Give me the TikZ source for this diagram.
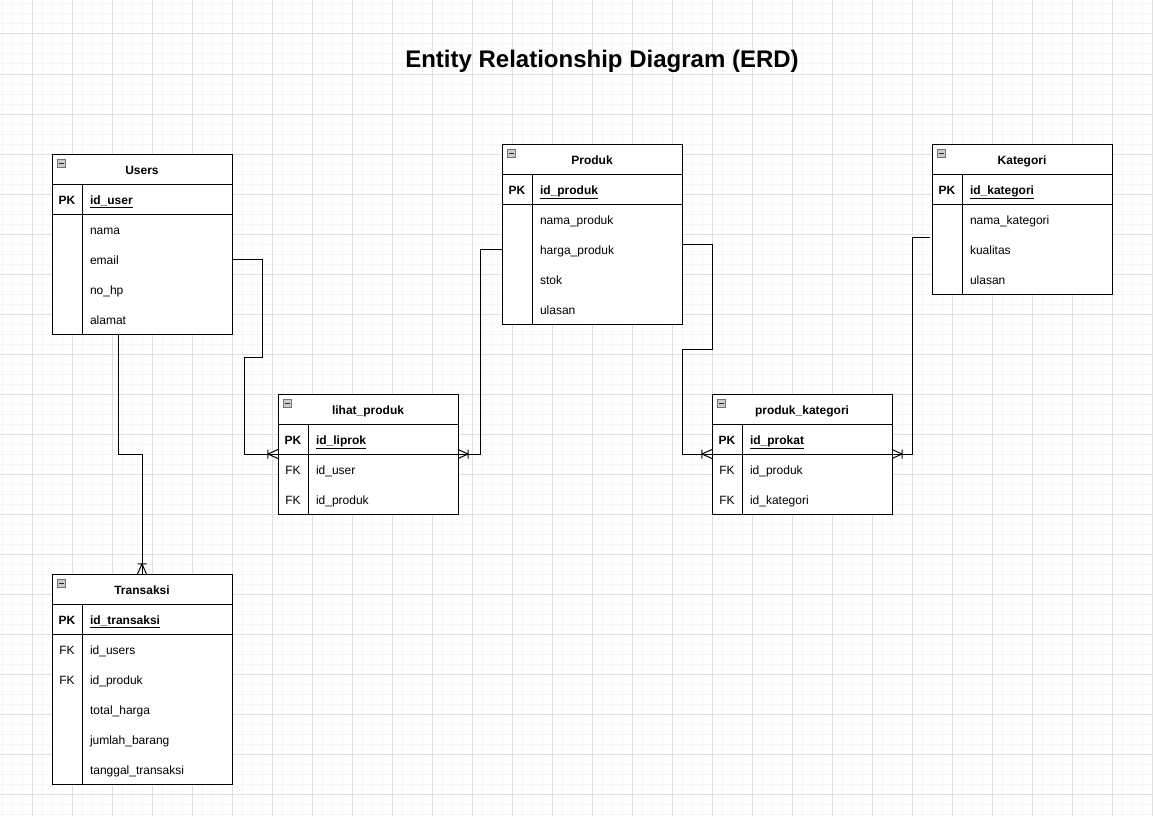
\documentclass[tikz,border=0pt]{standalone}
\usepackage{fontspec}
\setmainfont{Liberation Sans}
\usetikzlibrary{decorations.markings}
\def\rowsep{30}
\newcommand\pkfield[1]{\textbf{\underline{#1}}}

\begin{document}
\begin{tikzpicture}[x=1pt,y=-1pt,line width=1pt]
    \tikzstyle{minor grid}=[draw=black!4]
    \tikzstyle{major grid}=[draw=black!12]
    \tikzstyle{cell}=[fill=white, inner sep=0pt, outer sep=0pt, anchor=north west, minimum height=30pt, text height=10.5pt, text depth=0.5pt, font=\fontsize{12}{14}\selectfont]
    \tikzstyle{header}=[cell, draw, minimum width=180pt, font=\fontsize{12}{14}\selectfont\bfseries]
    \tikzstyle{keycell}=[cell, minimum width=30pt]
    \tikzstyle{field}=[cell, text width=134pt, inner xsep=8pt, align=left]
    \tikzstyle{collapse}=[draw=black!55, fill=black!20, minimum size=8pt, inner sep=0pt, outer sep=0pt, anchor=north west, line width=0.8pt,
        path picture={\draw[black!85] ([xshift=1.5pt]path picture bounding box.west) -- ([xshift=-1.5pt]path picture bounding box.east);}]
    \tikzstyle{title}=[font=\fontsize{24}{28}\selectfont\bfseries, anchor=base]
    \tikzstyle{link}=[draw=black]
    \tikzstyle{many}=[postaction={decorate}, decoration={markings, mark=at position 0.9999 with {\draw[line width=1pt] (-10pt,0pt) -- (0pt,4.5pt) (-10pt,0pt) -- (0pt,-4.5pt) (-10pt,4.5pt) -- (-10pt,-4.5pt);}}]

    \useasboundingbox (0,0) rectangle (1153,816);

    % Draw the background grid
    \foreach \x in {2,12,...,1152}
        \draw[minor grid] (\x,0) -- (\x,816);
    \foreach \y in {4,14,...,814}
        \draw[minor grid] (0,\y) -- (1153,\y);
    \foreach \x in {32,72,...,1152}
        \draw[major grid] (\x,0) -- (\x,816);
    \foreach \y in {34,74,...,794}
        \draw[major grid] (0,\y) -- (1153,\y);

    \node[title] (title) at (602,67) {Entity Relationship Diagram (ERD)};

    % Draw the Users table
    \node[header] (user) at (52,154) {Users};
    \foreach \i/\k/\f in {0/\textbf{PK}/\pkfield{id\_user},1//nama,2//email,3//no\_hp,4//alamat} {
        \node[keycell] (user-k\i) at (52,184+\rowsep*\i) {\k};
        \node[field] (user-\i) at (82,184+\rowsep*\i) {\f};
    }

    % Draw the Produk table
    \node[header] (produk) at (502,144) {Produk};
    \foreach \i/\k/\f in {0/\textbf{PK}/\pkfield{id\_produk},1//nama\_produk,2//harga\_produk,3//stok,4//ulasan} {
        \node[keycell] (produk-k\i) at (502,174+\rowsep*\i) {\k};
        \node[field] (produk-\i) at (532,174+\rowsep*\i) {\f};
    }

    % Draw the Kategori table
    \node[header] (kategori) at (932,144) {Kategori};
    \foreach \i/\k/\f in {0/\textbf{PK}/\pkfield{id\_kategori},1//nama\_kategori,2//kualitas,3//ulasan} {
        \node[keycell] (kategori-k\i) at (932,174+\rowsep*\i) {\k};
        \node[field] (kategori-\i) at (962,174+\rowsep*\i) {\f};
    }

    % Draw the lihat_produk table
    \node[header] (lihat) at (278,394) {lihat\_produk};
    \foreach \i/\k/\f in {0/\textbf{PK}/\pkfield{id\_liprok},1/FK/id\_user,2/FK/id\_produk} {
        \node[keycell] (lihat-k\i) at (278,424+\rowsep*\i) {\k};
        \node[field] (lihat-\i) at (308,424+\rowsep*\i) {\f};
    }

    % Draw the produk_kategori table
    \node[header] (prokat) at (712,394) {produk\_kategori};
    \foreach \i/\k/\f in {0/\textbf{PK}/\pkfield{id\_prokat},1/FK/id\_produk,2/FK/id\_kategori} {
        \node[keycell] (prokat-k\i) at (712,424+\rowsep*\i) {\k};
        \node[field] (prokat-\i) at (742,424+\rowsep*\i) {\f};
    }

    % Draw the Transaksi table
    \node[header] (transaksi) at (52,574) {Transaksi};
    \foreach \i/\k/\f in {0/\textbf{PK}/\pkfield{id\_transaksi},1/FK/id\_users,2/FK/id\_produk,3//total\_harga,4//jumlah\_barang,5//tanggal\_transaksi} {
        \node[keycell] (transaksi-k\i) at (52,604+\rowsep*\i) {\k};
        \node[field] (transaksi-\i) at (82,604+\rowsep*\i) {\f};
    }

    % Frame every table and add the collapse box
    \foreach \t/\n in {user/4,produk/4,kategori/3,lihat/2,prokat/2,transaksi/5} {
        \draw (\t-k0.north west) rectangle (\t-\n.south east);
        \draw (\t-k0.north east) -- (\t-k\n.south east);
        \draw (\t-k0.south west) -- (\t-0.south east);
        \node[collapse] (\t-min) at ([shift={(5pt,-5pt)}]\t.north west) {};
    }

    % Connect the tables
    \draw[link, many] (user-2.east) -- ++(30,0) |- (244,357) |- (lihat-k0.south west);
    \draw[link, many] (produk-k2.west) -- ++(-22,0) |- (lihat-0.south east);
    \draw[link, many] ([yshift=5pt]produk-2.east) -- ++(30,0) -- ++(0,105) -- ++(-30,0) |- (prokat-k0.south west);
    \draw[link, many] ([shift={(-2pt,-3pt)}]kategori-k1.south west) -- ++(-18,0) |- (prokat-0.south east);
    \draw[link, many] ([xshift=36pt]user-4.south west) -- ++(0,120) -| (transaksi.north);
\end{tikzpicture}
\end{document}
